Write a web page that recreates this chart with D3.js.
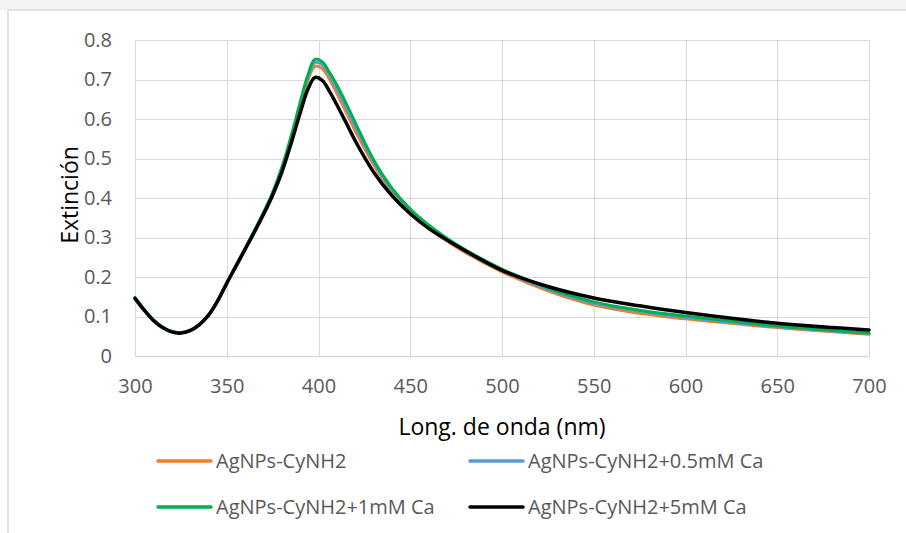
<!DOCTYPE html>
<html>
<head>
<meta charset="utf-8">
<script src="https://cdn.jsdelivr.net/npm/d3@7"></script>
<style>
  html, body { margin: 0; padding: 0; background: #fff; }
  svg { display: block; }
  text { font-family: "Open Sans", "Noto Sans", sans-serif; }
</style>
</head>
<body>
<svg id="chart" width="906" height="533"></svg>
<script>
// ---- data ----
const wavelengths = [300,305,310,315,320,325,330,335,340,345,350,355,360,365,370,375,380,385,390,394,398,402,406,410,415,420,430,440,450,460,475,500,525,550,575,600,650,700];

const seriesNames = ["AgNPs-CyNH2", "AgNPs-CyNH2+0.5mM Ca", "AgNPs-CyNH2+1mM Ca", "AgNPs-CyNH2+5mM Ca"];
const seriesColors = ["#ED7D31", "#5B9BD5", "#00B050", "#000000"];

const valsOrange = [0.146,0.116,0.090,0.072,0.062,0.058,0.064,0.079,0.103,0.139,0.184,0.228,0.271,0.315,0.361,0.411,0.472,0.548,0.632,0.695,0.733,0.728,0.701,0.665,0.618,0.570,0.485,0.416,0.364,0.324,0.276,0.213,0.165,0.129,0.108,0.094,0.072,0.055];
const valsBlue   = [0.147,0.117,0.091,0.072,0.062,0.059,0.065,0.080,0.104,0.140,0.185,0.229,0.272,0.316,0.362,0.413,0.475,0.552,0.638,0.703,0.743,0.738,0.711,0.677,0.630,0.582,0.492,0.421,0.369,0.329,0.280,0.217,0.169,0.134,0.113,0.098,0.074,0.057];
const valsGreen  = [0.148,0.118,0.092,0.073,0.062,0.059,0.065,0.080,0.104,0.140,0.185,0.229,0.272,0.317,0.363,0.414,0.477,0.555,0.642,0.708,0.751,0.745,0.718,0.686,0.640,0.591,0.497,0.425,0.372,0.332,0.283,0.220,0.172,0.137,0.116,0.101,0.076,0.058];
const valsBlack  = [0.146,0.116,0.090,0.072,0.061,0.058,0.064,0.079,0.103,0.139,0.184,0.227,0.270,0.313,0.358,0.407,0.465,0.537,0.615,0.673,0.705,0.698,0.670,0.636,0.591,0.545,0.466,0.406,0.360,0.323,0.280,0.217,0.176,0.147,0.127,0.110,0.083,0.066];

const xTicks = [300,350,400,450,500,550,600,650,700];
const yTicks = [0,0.1,0.2,0.3,0.4,0.5,0.6,0.7,0.8];
const xTitle = "Long. de onda (nm)";
const yTitle = "Extinción";

// ---- layout ----
const svg = d3.select("#chart");
const plotLeft = 135, plotRight = 869, plotTop = 40, plotBottom = 356;

// background watermark strip and frame
svg.append("rect").attr("x", 0).attr("y", 0).attr("width", 906).attr("height", 10).attr("fill", "#f3f3f3");
svg.append("rect").attr("x", 8).attr("y", 10).attr("width", 906).attr("height", 530)
  .attr("fill", "#fff").attr("stroke", "#d9d9d9").attr("stroke-width", 1.5);

const x = d3.scaleLinear().domain([300, 700]).range([plotLeft, plotRight]);
const y = d3.scaleLinear().domain([0, 0.8]).range([plotBottom, plotTop]);

// gridlines
const grid = svg.append("g");
grid.selectAll("line.h").data(yTicks).join("line").attr("class", "h")
  .attr("x1", plotLeft).attr("x2", plotRight)
  .attr("y1", d => Math.round(y(d)) + 0.5).attr("y2", d => Math.round(y(d)) + 0.5)
  .attr("stroke", "#d9d9d9").attr("stroke-width", 1);
grid.selectAll("line.v").data(xTicks).join("line").attr("class", "v")
  .attr("y1", plotTop).attr("y2", plotBottom)
  .attr("x1", d => Math.round(x(d)) + 0.5).attr("x2", d => Math.round(x(d)) + 0.5)
  .attr("stroke", "#d9d9d9").attr("stroke-width", 1);

// axes (labels via d3 axes)
const xAxis = d3.axisBottom(x).tickValues(xTicks).tickSize(0).tickPadding(23).tickFormat(d3.format("d"));
const gx = svg.append("g").attr("transform", `translate(0,${plotBottom})`).call(xAxis);
gx.select(".domain").attr("stroke", "#d9d9d9").attr("stroke-width", 1.5);
gx.selectAll("text").attr("fill", "#595959").style("font-size", "20px").style("font-family", "'Open Sans'");

const yAxis = d3.axisLeft(y).tickValues(yTicks).tickSize(0).tickPadding(23)
  .tickFormat(d => d === 0 ? "0" : d3.format(".1f")(d));
const gy = svg.append("g").attr("transform", `translate(${plotLeft},0)`).call(yAxis);
gy.select(".domain").remove();
gy.selectAll("text").attr("fill", "#595959").style("font-size", "20px").style("font-family", "'Open Sans'");

// titles
svg.append("text").attr("x", (plotLeft + plotRight) / 2).attr("y", 435)
  .attr("text-anchor", "middle").attr("fill", "#000").style("font-size", "23px")
  .text(xTitle);
svg.append("text").attr("transform", `translate(78,195) rotate(-90)`)
  .attr("text-anchor", "middle").attr("fill", "#000").style("font-size", "23px")
  .text(yTitle);

// lines
const allVals = [valsOrange, valsBlue, valsGreen, valsBlack];
const line = d3.line().x((d, i) => x(wavelengths[i])).y(d => y(d)).curve(d3.curveCatmullRom.alpha(0.5));
svg.append("g").selectAll("path").data(allVals).join("path")
  .attr("d", d => line(d))
  .attr("fill", "none")
  .attr("stroke", (d, i) => seriesColors[i])
  .attr("stroke-width", (d, i) => i === 3 ? 3.5 : 3)
  .attr("stroke-linejoin", "round").attr("stroke-linecap", "round");

// legend
const legendPos = [[158, 461], [470, 461], [158, 507], [470, 507]];
const lg = svg.append("g").selectAll("g").data(seriesNames).join("g")
  .attr("transform", (d, i) => `translate(${legendPos[i][0]},${legendPos[i][1]})`);
lg.append("line").attr("x1", 0).attr("x2", 53).attr("y1", 0).attr("y2", 0)
  .attr("stroke", (d, i) => seriesColors[i]).attr("stroke-width", 3.5).attr("stroke-linecap", "round");
lg.append("text").attr("x", 58).attr("y", 0).attr("dy", "0.35em")
  .attr("fill", "#595959").style("font-size", "20px").text(d => d);
</script>
</body>
</html>
